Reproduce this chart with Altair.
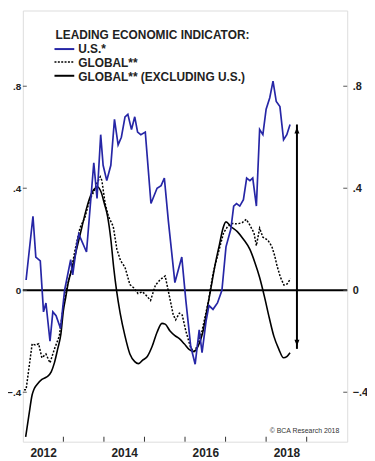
import altair as alt
import pandas as pd

# ---------------- data ----------------
us_t = [2012.08, 2012.25, 2012.32, 2012.43, 2012.51, 2012.57, 2012.67, 2012.74, 2012.82, 2012.93,
        2013.03, 2013.18, 2013.23, 2013.34, 2013.38, 2013.57, 2013.75, 2013.83, 2013.92, 2013.98,
        2014.07, 2014.17, 2014.26, 2014.35, 2014.43, 2014.52, 2014.59, 2014.68, 2014.76, 2014.83,
        2014.91, 2015.02, 2015.16, 2015.31, 2015.41, 2015.49, 2015.59, 2015.75, 2015.92, 2016.02,
        2016.14, 2016.25, 2016.35, 2016.42, 2016.52, 2016.59, 2016.69, 2016.80, 2016.91, 2017.01,
        2017.13, 2017.20, 2017.27, 2017.35, 2017.44, 2017.52, 2017.60, 2017.67, 2017.76, 2017.84,
        2017.92, 2018.00, 2018.09, 2018.17, 2018.25, 2018.34, 2018.43, 2018.51, 2018.59]
us_v = [0.04, 0.29, 0.13, 0.115, -0.085, -0.05, -0.2, -0.085, -0.1, -0.15,
        0.0, 0.12, 0.06, 0.19, 0.22, 0.15, 0.5, 0.36, 0.61, 0.49,
        0.43, 0.49, 0.67, 0.57, 0.6, 0.68, 0.69, 0.63, 0.68, 0.62,
        0.61, 0.62, 0.34, 0.40, 0.41, 0.44, 0.27, 0.03, 0.13, -0.04,
        -0.22, -0.29, -0.155, -0.245, -0.12, -0.06, -0.075, -0.05, 0.0, 0.17,
        0.24, 0.33, 0.34, 0.33, 0.355, 0.44, 0.43, 0.44, 0.33, 0.63,
        0.61, 0.71, 0.755, 0.82, 0.74, 0.72, 0.59, 0.61, 0.65]

gl_t = [2012.03, 2012.08, 2012.23, 2012.31, 2012.39, 2012.47, 2012.57, 2012.67, 2012.78, 2012.90,
        2013.00, 2013.10, 2013.18, 2013.29, 2013.41, 2013.53, 2013.65, 2013.76, 2013.83, 2013.91,
        2013.95, 2014.03, 2014.11, 2014.23, 2014.32, 2014.41, 2014.52, 2014.64, 2014.73, 2014.84,
        2014.95, 2015.04, 2015.15, 2015.27, 2015.39, 2015.51, 2015.63, 2015.71, 2015.77, 2015.86,
        2015.93, 2016.02, 2016.14, 2016.22, 2016.30, 2016.42, 2016.58, 2016.69, 2016.81, 2016.95,
        2017.05, 2017.17, 2017.29, 2017.41, 2017.51, 2017.60, 2017.70, 2017.76, 2017.84, 2017.92,
        2018.04, 2018.14, 2018.21, 2018.27, 2018.35, 2018.44, 2018.52, 2018.60]
gl_v = [-0.39, -0.39, -0.21, -0.215, -0.21, -0.265, -0.25, -0.285, -0.23, -0.18,
        -0.06, 0.02, 0.065, 0.16, 0.245, 0.285, 0.355, 0.39, 0.42, 0.445,
        0.43, 0.34, 0.29, 0.25, 0.16, 0.116, 0.09, 0.022, 0.01, -0.013,
        -0.006, -0.02, -0.04, 0.02, 0.042, 0.056, -0.035, -0.097, -0.116, -0.09,
        -0.097, -0.16, -0.226, -0.24, -0.22, -0.16, -0.04, 0.065, 0.14, 0.225,
        0.25, 0.262, 0.26, 0.265, 0.278, 0.255, 0.225, 0.175, 0.243, 0.208,
        0.197, 0.172, 0.136, 0.095, 0.052, 0.02, 0.025, 0.045]

ex_t = [2012.07, 2012.15, 2012.23, 2012.27, 2012.35, 2012.47, 2012.59, 2012.70, 2012.78, 2012.86,
        2012.94, 2013.00, 2013.06, 2013.12, 2013.22, 2013.34, 2013.46, 2013.57, 2013.67, 2013.75,
        2013.85, 2013.93, 2014.01, 2014.09, 2014.17, 2014.24, 2014.31, 2014.40, 2014.52, 2014.64,
        2014.76, 2014.85, 2014.95, 2015.07, 2015.19, 2015.31, 2015.43, 2015.51, 2015.63, 2015.75,
        2015.86, 2015.98, 2016.10, 2016.22, 2016.32, 2016.43, 2016.54, 2016.63, 2016.73, 2016.85,
        2016.94, 2017.01, 2017.13, 2017.29, 2017.44, 2017.60, 2017.72, 2017.84, 2017.96, 2018.08,
        2018.19, 2018.31, 2018.43, 2018.51, 2018.59]
ex_v = [-0.575, -0.49, -0.41, -0.39, -0.37, -0.35, -0.34, -0.32, -0.284, -0.23,
        -0.17, -0.08, -0.026, 0.03, 0.09, 0.17, 0.25, 0.32, 0.37, 0.395,
        0.405, 0.385, 0.34, 0.29, 0.2, 0.09, 0.0, -0.09, -0.18, -0.25,
        -0.28, -0.288, -0.275, -0.26, -0.22, -0.165, -0.13, -0.133, -0.16, -0.178,
        -0.19, -0.21, -0.232, -0.24, -0.22, -0.17, -0.078, 0.0, 0.09, 0.18,
        0.245, 0.268, 0.25, 0.23, 0.2, 0.16, 0.11, 0.05, -0.026, -0.11,
        -0.18, -0.23, -0.265, -0.26, -0.245]

arrow_t = [2018.76]
arrow_top = [0.65]
arrow_bottom = [-0.23]

y_ticks = [-0.4, 0.0, 0.4, 0.8]
x_years = [2012, 2013, 2014, 2015, 2016, 2017, 2018, 2019]
x_inner_ticks = [2013, 2014, 2015, 2016, 2017, 2018, 2019]

legend_title = "LEADING ECONOMIC INDICATOR:"
legend_labels = ["U.S.*", "GLOBAL**", "GLOBAL** (EXCLUDING U.S.)"]
credit = "\u00a9 BCA Research 2018"

# ---------------- layout / style ----------------
PAD_L = 15
W, H = 328, 436
X_DOM = [2012, 2020]
Y_DOM = [-0.594, 1.097]
BLUE = "#2626a6"
FONT = "Liberation Sans"
DX = 14 - (8 + PAD_L)  # shift of legend positions relative to reference frame

xs = alt.Scale(domain=X_DOM, nice=False, zero=False)
ys = alt.Scale(domain=Y_DOM, nice=False, zero=False)

us_df = pd.DataFrame({"t": us_t, "v": us_v})
gl_df = pd.DataFrame({"t": gl_t, "v": gl_v})
ex_df = pd.DataFrame({"t": ex_t, "v": ex_v})
arrow_df = pd.DataFrame({"t": arrow_t, "top": arrow_top, "bottom": arrow_bottom})
yt_df = pd.DataFrame({"v": y_ticks})
xt_df = pd.DataFrame({"t": x_inner_ticks})
zero_df = pd.DataFrame({"v": [0.0]})

label_expr = "datum.value == 0 ? '0' : replace(format(datum.value, '.1f'), '0.', '.')"

x_axis = alt.Axis(values=x_years, labelExpr="datum.value % 2 == 0 ? format(datum.value, 'd') : ''",
                  labelOffset=W / 16, ticks=False, domain=False, grid=False, title=None,
                  labelFontSize=12, labelFontWeight="bold", labelPadding=6, labelFlush=False,
                  labelColor="#222", labelOverlap=False)
yl_axis = alt.Axis(values=y_ticks, labelExpr=label_expr, orient="left", ticks=False, domain=False,
                   grid=False, title=None, labelFontSize=10, labelFontWeight="bold", labelPadding=2,
                   labelColor="#222")
yr_axis = alt.Axis(values=y_ticks, labelExpr=label_expr, orient="right", ticks=False, domain=False,
                   grid=False, title=None, labelFontSize=11, labelFontWeight="bold", labelPadding=5,
                   labelAlign="left", labelColor="#222")


def X(field="t:Q"):
    return alt.X(field, scale=xs, axis=x_axis)


zero = alt.Chart(zero_df).mark_rule(color="black", strokeWidth=2).encode(
    y=alt.Y("v:Q", scale=ys, axis=yl_axis), x=alt.value(0), x2=alt.value(W))

ytick_l = alt.Chart(yt_df).mark_rule(color="#555", strokeWidth=1).encode(
    y=alt.Y("v:Q", scale=ys, axis=yr_axis), x=alt.value(0), x2=alt.value(4))
ytick_r = alt.Chart(yt_df).mark_rule(color="#555", strokeWidth=1).encode(
    y=alt.Y("v:Q", scale=ys, axis=None), x=alt.value(W - 4), x2=alt.value(W))
xtick = alt.Chart(xt_df).mark_rule(color="#333", strokeWidth=1).encode(
    x=X(), y=alt.value(H), y2=alt.value(H - 5))

ex_line = alt.Chart(ex_df).mark_line(color="black", strokeWidth=1.6, interpolate="monotone").encode(
    x=X(), y=alt.Y("v:Q", scale=ys, axis=None))
gl_line = alt.Chart(gl_df).mark_line(color="black", strokeWidth=1.5, strokeDash=[2, 1.6]).encode(
    x=X(), y=alt.Y("v:Q", scale=ys, axis=None))
us_line = alt.Chart(us_df).mark_line(color=BLUE, strokeWidth=1.7).encode(
    x=X(), y=alt.Y("v:Q", scale=ys, axis=None))

arrow_shaft = alt.Chart(arrow_df).mark_rule(color="black", strokeWidth=2).encode(
    x=X(), y=alt.Y("top:Q", scale=ys, axis=None), y2="bottom:Q")
arrow_up = alt.Chart(arrow_df).mark_point(shape="M0,-0.5L0.4,0.5L-0.4,0.5Z", filled=True,
                                          color="black", size=160, opacity=1, yOffset=6).encode(
    x=X(), y=alt.Y("top:Q", scale=ys, axis=None))
arrow_down = alt.Chart(arrow_df).mark_point(shape="M0,0.5L0.4,-0.5L-0.4,-0.5Z", filled=True,
                                            color="black", size=160, opacity=1, yOffset=-6).encode(
    x=X(), y=alt.Y("bottom:Q", scale=ys, axis=None))

# legend (drawn as annotations)
title_txt = alt.Chart(pd.DataFrame({"s": [legend_title]})).mark_text(
    align="left", baseline="middle", font=FONT, fontSize=12, fontWeight="bold", color="#222").encode(
    text="s:N", x=alt.value(42 + DX), y=alt.value(25))
leg_txt = [
    alt.Chart(pd.DataFrame({"s": [lab]})).mark_text(
        align="left", baseline="middle", font=FONT, fontSize=12, fontWeight="bold", color="#222").encode(
        text="s:N", x=alt.value(65 + DX), y=alt.value(yy))
    for lab, yy in zip(legend_labels, [39, 53, 67])
]
leg_us = alt.Chart(zero_df).mark_rule(color=BLUE, strokeWidth=2).encode(
    x=alt.value(41 + DX), x2=alt.value(61 + DX), y=alt.value(39))
leg_gl = alt.Chart(zero_df).mark_rule(color="black", strokeWidth=1.6, strokeDash=[2, 1.4]).encode(
    x=alt.value(41 + DX), x2=alt.value(61 + DX), y=alt.value(52))
leg_ex = alt.Chart(zero_df).mark_rule(color="black", strokeWidth=2).encode(
    x=alt.value(41 + DX), x2=alt.value(61 + DX), y=alt.value(66))

credit_txt = alt.Chart(pd.DataFrame({"s": [credit]})).mark_text(
    align="right", baseline="middle", font=FONT, fontSize=7, color="#333").encode(
    text="s:N", x=alt.value(W - 8), y=alt.value(425))

chart = alt.layer(
    zero, ytick_l, ytick_r, xtick, ex_line, gl_line, us_line,
    arrow_shaft, arrow_up, arrow_down,
    title_txt, *leg_txt, leg_us, leg_gl, leg_ex, credit_txt
).resolve_axis(y="independent").properties(
    width=W, height=H,
    autosize=alt.AutoSizeParams(type="none"),
    padding={"left": PAD_L, "top": 0, "right": 20, "bottom": 17},
).configure_view(stroke="#666", strokeWidth=1).configure(
    font=FONT, background="white"
).configure_axis(labelFont=FONT)

chart.save("out.html", embed_options={"renderer": "svg", "actions": False})
